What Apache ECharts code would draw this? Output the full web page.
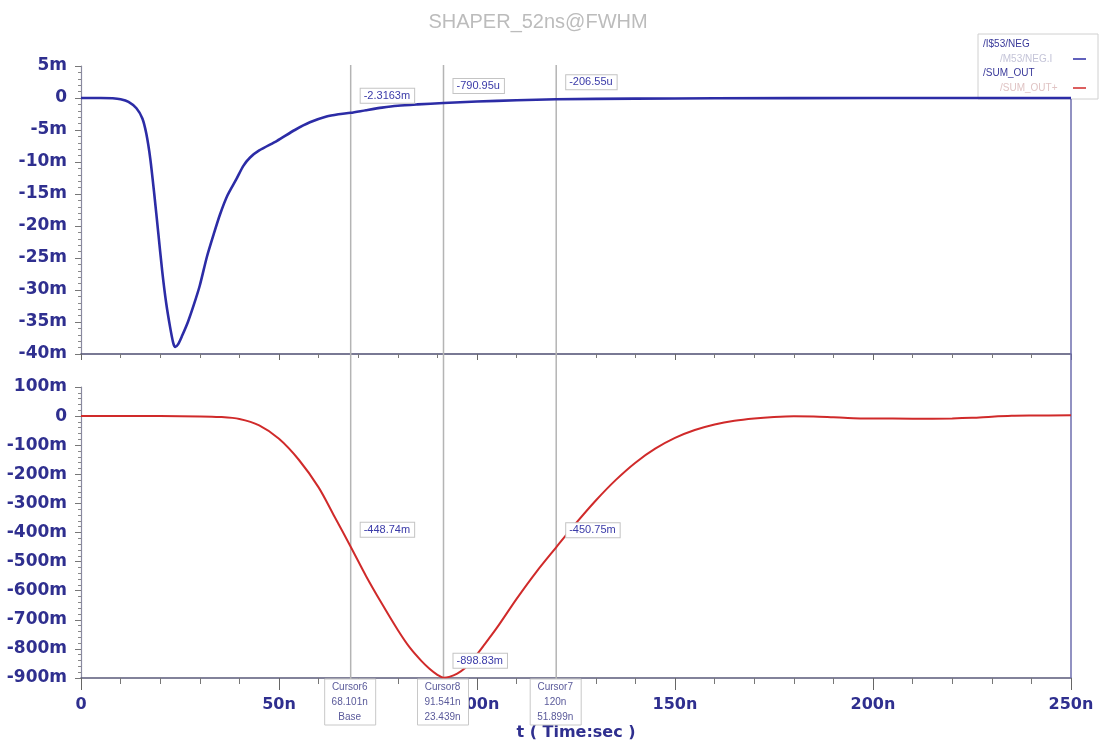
<!DOCTYPE html>
<html>
<head>
<meta charset="utf-8">
<script src="https://cdn.jsdelivr.net/npm/echarts@6/dist/echarts.min.js"></script>
<style>
  html, body { margin: 0; padding: 0; background: #ffffff; }
  #chart { width: 1101px; height: 749px; }
</style>
</head>
<body>
<div id="chart"></div>
<script>
// Time in ns, voltages in mV.
const titleText = 'SHAPER_52ns@FWHM';

// /I$53/NEG (upper panel)
const negTrace = [
  [0, 0], [5, 0], [8, -0.05], [10, -0.2], [12, -0.6], [14, -1.6], [15.5, -3.2],
  [16.5, -5.6], [17.5, -9.5], [18.5, -15], [19.5, -21], [20.5, -27], [21.5, -32],
  [22.5, -35.8], [23.3, -38.3], [23.8, -38.9], [24.5, -38.5], [25.5, -37.2],
  [27, -35], [28.5, -32.3], [30, -29.3], [31.8, -24.8], [33.5, -21.3], [35.1, -18.2],
  [37, -15.2], [39.3, -12.6], [41, -10.6], [42.7, -9.3], [45, -8.2], [49.5, -6.7],
  [54, -5.0], [57.8, -3.8], [62, -2.9], [65, -2.55], [68.101, -2.3163], [72, -1.9],
  [76, -1.5], [80, -1.2], [85, -1.0], [91.541, -0.79095], [100, -0.55], [110, -0.36],
  [120, -0.20655], [140, -0.1], [160, -0.05], [200, -0.01], [250, 0]
];

// /SUM_OUT (lower panel)
const sumTrace = [
  [0, 0], [20, 0], [30, -1], [35, -3], [40, -10], [45, -32], [50, -78], [55, -150],
  [60, -245], [64, -345], [68.101, -448.74], [72, -550], [76, -645], [80, -735],
  [83, -795], [86, -842], [88, -868], [90, -889], [91.541, -898.83], [93, -896],
  [95, -885], [97, -866], [99, -836], [101.5, -792], [105, -728], [110, -628],
  [115, -535], [120, -450.75], [125, -368], [130, -290], [135, -220], [140, -160],
  [145, -112], [150, -75], [155, -48], [160, -29], [165, -16], [170, -8], [175, -3],
  [180, -0.5], [185, -1], [190, -4], [195, -7], [200, -8], [210, -9], [220, -8],
  [225, -6], [230, -2], [235, 1], [240, 2], [250, 3]
];

// Cursor readouts
const cursorNames = ['Cursor6', 'Cursor8', 'Cursor7'];
const cursorTimes = [68.101, 91.541, 120];
const cursorTimeText = ['68.101n', '91.541n', '120n'];
const cursorDeltaText = ['Base', '23.439n', '51.899n'];
const negValueText = ['-2.3163m', '-790.95u', '-206.55u'];
const negValues = [-2.3163, -0.79095, -0.20655];
const sumValueText = ['-448.74m', '-898.83m', '-450.75m'];
const sumValues = [-448.74, -898.83, -450.75];

const legendNames = ['/I$53/NEG', '/M53/NEG.I', '/SUM_OUT', '/SUM_OUT+'];

const navy = '#2f2f8f';
const blueLine = '#2c2ca6';
const redLine = '#d02a2a';
const font = 'Liberation Sans, Arial, sans-serif';
const boldFont = 'DejaVu Sans, Verdana, sans-serif';

const chart = echarts.init(document.getElementById('chart'));

function yLabel(v) { return v === 0 ? '0' : v + 'm'; }
function xLabel(v) { return v === 0 ? '0' : v + 'n'; }

const yLabelStyle = { color: navy, fontWeight: 'bold', fontSize: 17, fontFamily: boldFont };
const xLabelStyle = { color: navy, fontWeight: 'bold', fontSize: 16, fontFamily: boldFont };

chart.setOption({
  animation: false,
  backgroundColor: '#ffffff',
  title: {
    text: titleText, left: 533, top: 7, textAlign: 'center',
    textStyle: { color: '#bcbcbc', fontSize: 20, fontWeight: 'normal', fontFamily: font }
  },
  grid: [
    { left: 81, right: 30, top: 66, height: 288 },
    { left: 81, right: 30, top: 387, height: 291 }
  ],
  xAxis: [
    {
      gridIndex: 0, type: 'value', min: 0, max: 250, interval: 50,
      axisLine: { onZero: false, lineStyle: { color: '#4e4e72', width: 1.5 } },
      axisTick: { length: 6, lineStyle: { color: '#666' } },
      minorTick: { show: true, splitNumber: 5, length: 4, lineStyle: { color: '#777' } },
      axisLabel: { show: false }, splitLine: { show: false }
    },
    {
      gridIndex: 1, type: 'value', min: 0, max: 250, interval: 50,
      axisLine: { onZero: false, lineStyle: { color: '#5a5a7a', width: 1.5 } },
      axisTick: { length: 12, lineStyle: { color: '#666' } },
      minorTick: { show: true, splitNumber: 5, length: 6, lineStyle: { color: '#777' } },
      axisLabel: Object.assign({ formatter: xLabel, margin: 19 }, xLabelStyle),
      splitLine: { show: false }
    }
  ],
  yAxis: [
    {
      gridIndex: 0, type: 'value', min: -40, max: 5, interval: 5,
      axisLine: { show: true, onZero: false, lineStyle: { color: '#8a8aa0', width: 1.2 } },
      axisTick: { length: 6, lineStyle: { color: '#777' } },
      minorTick: { show: true, splitNumber: 5, length: 3, lineStyle: { color: '#888' } },
      axisLabel: Object.assign({ formatter: yLabel, margin: 14 }, yLabelStyle),
      splitLine: { show: false }
    },
    {
      gridIndex: 1, type: 'value', min: -900, max: 100, interval: 100,
      axisLine: { show: true, onZero: false, lineStyle: { color: '#8a8aa0', width: 1.2 } },
      axisTick: { length: 6, lineStyle: { color: '#777' } },
      minorTick: { show: true, splitNumber: 5, length: 3, lineStyle: { color: '#888' } },
      axisLabel: Object.assign({ formatter: yLabel, margin: 14 }, yLabelStyle),
      splitLine: { show: false }
    }
  ],
  series: [
    {
      name: legendNames[0], type: 'line', xAxisIndex: 0, yAxisIndex: 0,
      data: negTrace, smooth: 0.25, showSymbol: false,
      lineStyle: { color: blueLine, width: 2.6 }, z: 3
    },
    {
      name: legendNames[2], type: 'line', xAxisIndex: 1, yAxisIndex: 1,
      data: sumTrace, smooth: 0.3, showSymbol: false,
      lineStyle: { color: redLine, width: 2 }, z: 3
    }
  ]
});

// Cursors, readouts, legend box and axis title placed through the chart's own scales.
const g = [];
const px = (grid, x, y) => chart.convertToPixel({ gridIndex: grid }, [x, y]);
const topY = px(0, 0, 5)[1];
const bottomY = px(1, 0, -900)[1];
const rightX = px(1, 250, 0)[0];

// right frame line
g.push({ type: 'line', z: 2, shape: { x1: rightX, y1: 99, x2: rightX, y2: bottomY },
  style: { stroke: '#6e6eae', lineWidth: 1.5 } });

cursorTimes.forEach((t, i) => {
  const cx = px(0, t, 0)[0];
  g.push({ type: 'line', z: 1, shape: { x1: cx, y1: topY - 1, x2: cx, y2: bottomY + 2 },
    style: { stroke: '#b4b4b4', lineWidth: 1.5 } });

  // value readouts
  const pN = px(0, t, negValues[i]);
  const pS = px(1, t, sumValues[i]);
  [[pN, negValueText[i]], [pS, sumValueText[i]]].forEach(([p, txt]) => {
    g.push({
      type: 'text', z: 20, x: cx + 10, y: p[1] - 17,
      style: {
        text: txt, fill: '#3a3aa8', font: '11px ' + font,
        verticalAlign: 'middle', align: 'left',
        backgroundColor: '#ffffff', borderColor: '#c4c4c4', borderWidth: 1,
        padding: [2, 4, 1, 3]
      }
    });
  });

  // cursor boxes under the time axis
  g.push({
    type: 'group', z: 30, x: cx, y: bottomY + 1,
    children: [
      { type: 'rect', z: 30, shape: { x: -26, y: 0, width: 51, height: 46 },
        style: { fill: '#ffffff', stroke: '#c8c8c8', lineWidth: 1 } },
      { type: 'text', z: 31, x: -1, y: 8, style: { text: cursorNames[i], fill: '#5a5a9a', font: '10px ' + font, align: 'center', verticalAlign: 'middle' } },
      { type: 'text', z: 31, x: -1, y: 23, style: { text: cursorTimeText[i], fill: '#5a5a9a', font: '10px ' + font, align: 'center', verticalAlign: 'middle' } },
      { type: 'text', z: 31, x: -1, y: 38, style: { text: cursorDeltaText[i], fill: '#5a5a9a', font: '10px ' + font, align: 'center', verticalAlign: 'middle' } }
    ]
  });
});

// time axis title
g.push({ type: 'text', z: 10, x: 576, y: 733,
  style: { text: 't ( Time:sec )', fill: navy, font: 'bold 16px ' + boldFont, align: 'center', verticalAlign: 'middle' } });

// legend box
g.push({
  type: 'group', z: 25, x: 978, y: 34,
  children: [
    { type: 'rect', shape: { x: 0, y: 0, width: 120, height: 65 },
      style: { fill: '#ffffff', stroke: '#d0d0d0', lineWidth: 1 } },
    { type: 'text', x: 5, y: 10, style: { text: legendNames[0], fill: '#3a3a9a', font: '10px ' + font, verticalAlign: 'middle' } },
    { type: 'text', x: 22, y: 25, style: { text: legendNames[1], fill: '#c4c4d8', font: '10px ' + font, verticalAlign: 'middle' } },
    { type: 'line', shape: { x1: 95, y1: 25, x2: 108, y2: 25 }, style: { stroke: blueLine, lineWidth: 1.5 } },
    { type: 'text', x: 5, y: 39, style: { text: legendNames[2], fill: '#3a3a9a', font: '10px ' + font, verticalAlign: 'middle' } },
    { type: 'text', x: 22, y: 54, style: { text: legendNames[3], fill: '#e0c4c4', font: '10px ' + font, verticalAlign: 'middle' } },
    { type: 'line', shape: { x1: 95, y1: 54, x2: 108, y2: 54 }, style: { stroke: redLine, lineWidth: 1.5 } }
  ]
});

chart.setOption({ graphic: g });
</script>
</body>
</html>
